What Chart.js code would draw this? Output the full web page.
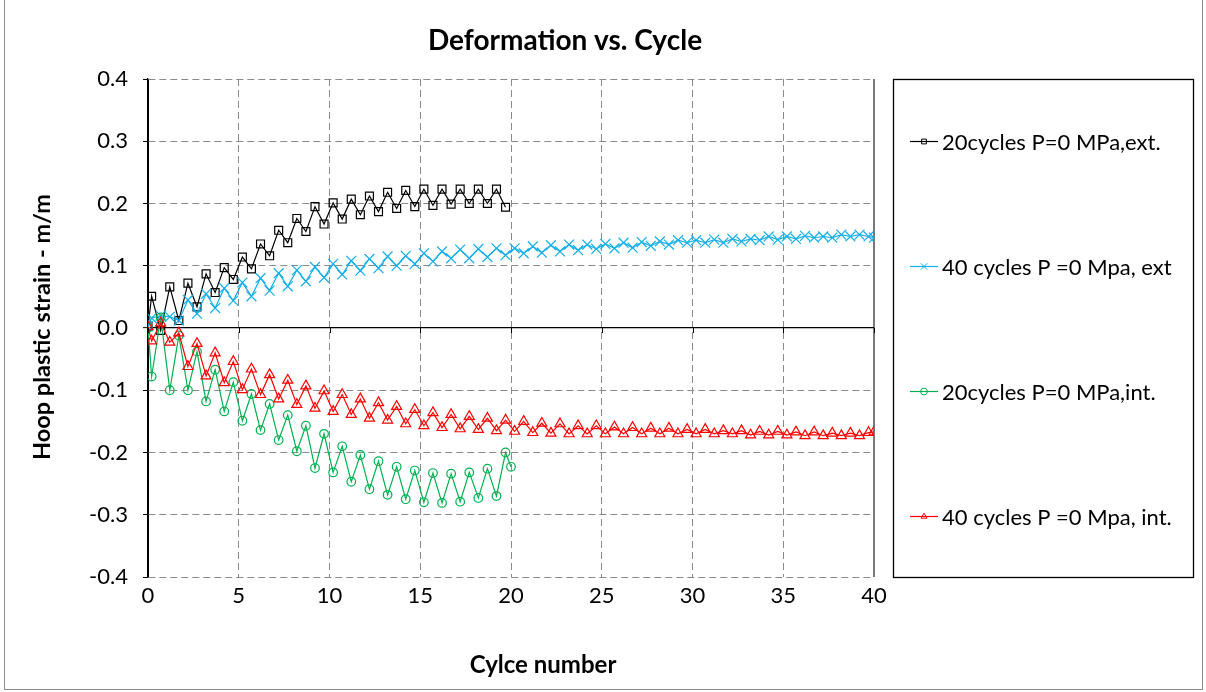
<!DOCTYPE html>
<html>
<head>
<meta charset="utf-8">
<title>Deformation vs. Cycle</title>
<script src="https://cdn.jsdelivr.net/npm/chart.js@4/dist/chart.umd.min.js"></script>
<style>
  html, body { margin: 0; padding: 0; background: #ffffff; }
  #wrap { width: 1206px; height: 692px; position: relative; }
  canvas { display: block; }
</style>
</head>
<body>
<div id="wrap"><canvas id="chart" width="1206" height="692"></canvas></div>
<script>
// ---- Data: hoop plastic strain (m/m) against cycle number ----
const cycles20 = [0, 0.2, 0.7, 1.2, 1.7, 2.2, 2.7, 3.2, 3.7, 4.2, 4.7, 5.2, 5.7, 6.2, 6.7, 7.2, 7.7,
  8.2, 8.7, 9.2, 9.7, 10.2, 10.7, 11.2, 11.7, 12.2, 12.7, 13.2, 13.7, 14.2, 14.7, 15.2, 15.7,
  16.2, 16.7, 17.2, 17.7, 18.2, 18.7, 19.2, 19.7];

const cycles20int = [0, 0.2, 0.7, 1.2, 1.7, 2.2, 2.7, 3.2, 3.7, 4.2, 4.7, 5.2, 5.7, 6.2, 6.7, 7.2, 7.7,
  8.2, 8.7, 9.2, 9.7, 10.2, 10.7, 11.2, 11.7, 12.2, 12.7, 13.2, 13.7, 14.2, 14.7, 15.2, 15.7,
  16.2, 16.7, 17.2, 17.7, 18.2, 18.7, 19.2, 19.7, 20];

const cycles40 = [0, 0.2, 0.7, 1.2, 1.7, 2.2, 2.7, 3.2, 3.7, 4.2, 4.7, 5.2, 5.7, 6.2, 6.7, 7.2, 7.7,
  8.2, 8.7, 9.2, 9.7, 10.2, 10.7, 11.2, 11.7, 12.2, 12.7, 13.2, 13.7, 14.2, 14.7, 15.2, 15.7,
  16.2, 16.7, 17.2, 17.7, 18.2, 18.7, 19.2, 19.7, 20.2, 20.7, 21.2, 21.7, 22.2, 22.7, 23.2, 23.7,
  24.2, 24.7, 25.2, 25.7, 26.2, 26.7, 27.2, 27.7, 28.2, 28.7, 29.2, 29.7, 30.2, 30.7, 31.2, 31.7,
  32.2, 32.7, 33.2, 33.7, 34.2, 34.7, 35.2, 35.7, 36.2, 36.7, 37.2, 37.7, 38.2, 38.7, 39.2, 39.7, 40];

const strain20ext = [0.003, 0.051, -0.004, 0.066, 0.012, 0.072, 0.034, 0.087, 0.057, 0.097, 0.078,
  0.114, 0.095, 0.135, 0.116, 0.157, 0.137, 0.176, 0.155, 0.195, 0.167, 0.201, 0.175, 0.207, 0.182,
  0.212, 0.187, 0.218, 0.192, 0.221, 0.195, 0.223, 0.197, 0.223, 0.199, 0.223, 0.200, 0.223, 0.200,
  0.223, 0.194];

const strain40ext = [0.003, 0.016, 0.020, 0.018, 0.012, 0.045, 0.023, 0.055, 0.032, 0.064, 0.044,
  0.073, 0.051, 0.080, 0.060, 0.088, 0.067, 0.093, 0.075, 0.098, 0.081, 0.103, 0.086, 0.108, 0.092,
  0.111, 0.096, 0.115, 0.100, 0.116, 0.103, 0.120, 0.107, 0.123, 0.112, 0.126, 0.112, 0.127, 0.114,
  0.128, 0.117, 0.128, 0.120, 0.131, 0.121, 0.133, 0.123, 0.134, 0.125, 0.134, 0.127, 0.135, 0.128,
  0.137, 0.129, 0.138, 0.132, 0.139, 0.134, 0.141, 0.137, 0.141, 0.137, 0.142, 0.137, 0.143, 0.139,
  0.143, 0.141, 0.147, 0.142, 0.147, 0.143, 0.148, 0.145, 0.147, 0.145, 0.150, 0.147, 0.150, 0.147,
  0.145];

const strain20int = [0.000, -0.078, 0.017, -0.100, -0.012, -0.100, -0.038, -0.118, -0.067, -0.134,
  -0.087, -0.149, -0.106, -0.164, -0.122, -0.180, -0.140, -0.198, -0.157, -0.225, -0.170, -0.232,
  -0.190, -0.247, -0.204, -0.259, -0.214, -0.268, -0.223, -0.275, -0.229, -0.280, -0.233, -0.281,
  -0.234, -0.279, -0.232, -0.273, -0.226, -0.270, -0.200, -0.223];

const strain40int = [0.002, -0.021, 0.008, -0.023, -0.008, -0.062, -0.025, -0.077, -0.040, -0.088,
  -0.054, -0.099, -0.066, -0.107, -0.075, -0.114, -0.084, -0.123, -0.093, -0.129, -0.101, -0.134,
  -0.107, -0.139, -0.114, -0.145, -0.120, -0.148, -0.126, -0.154, -0.131, -0.157, -0.136, -0.160,
  -0.139, -0.162, -0.142, -0.163, -0.145, -0.165, -0.148, -0.166, -0.150, -0.168, -0.153, -0.169,
  -0.154, -0.170, -0.157, -0.170, -0.157, -0.170, -0.159, -0.170, -0.160, -0.170, -0.161, -0.170,
  -0.161, -0.170, -0.163, -0.170, -0.163, -0.170, -0.165, -0.170, -0.165, -0.172, -0.166, -0.172,
  -0.166, -0.172, -0.167, -0.173, -0.167, -0.173, -0.169, -0.173, -0.169, -0.173, -0.168, -0.167];

const seriesNames = [
  '20cycles P=0 MPa,ext.',
  '40 cycles P =0 Mpa, ext',
  '20cycles P=0 MPa,int.',
  '40 cycles P =0 Mpa, int.'
];

const chartTitle = 'Deformation vs. Cycle';
const xTitle = 'Cylce number';
const yTitle = 'Hoop plastic strain - m/m';

const FONT = 'Lato, "Open Sans", "Liberation Sans", sans-serif';
const GRID = '#8a8a8a';

function pairs(xs, ys) {
  return xs.map((x, i) => ({ x: x, y: ys[i] }));
}

function lineSet(label, xs, ys, color, style, radius, order) {
  return {
    label: label,
    data: pairs(xs, ys),
    borderColor: color,
    backgroundColor: 'rgba(0,0,0,0)',
    borderWidth: 1.2,
    pointStyle: style,
    pointRadius: radius,
    pointBorderColor: color,
    pointBackgroundColor: 'rgba(0,0,0,0)',
    pointBorderWidth: 1.2,
    tension: 0,
    fill: false,
    order: order
  };
}

const datasets = [
  lineSet(seriesNames[0], cycles20, strain20ext, '#000000', 'rect', 5.6, 4),
  lineSet(seriesNames[1], cycles40, strain40ext, '#12aeea', 'crossRot', 7, 3),
  lineSet(seriesNames[2], cycles20int, strain20int, '#00b050', 'circle', 4.3, 2),
  lineSet(seriesNames[3], cycles40, strain40int, '#ff0000', 'triangle', 5.8, 1)
];

// Frame, titles, boxed legend and axis tick marks on the zero line
const decorations = {
  id: 'decorations',
  beforeDraw(chart) {
    const ctx = chart.ctx;
    ctx.save();
    ctx.fillStyle = '#ffffff';
    ctx.fillRect(0, 0, chart.width, chart.height);
    ctx.strokeStyle = '#8c8c8c';
    ctx.lineWidth = 1;
    ctx.strokeRect(4.5, -2, 1198, 691.5);
    ctx.restore();
  },
  afterDatasetsDraw(chart) {
    const ctx = chart.ctx;
    const xs = chart.scales.x;
    const y0 = chart.scales.y.getPixelForValue(0);
    ctx.save();
    ctx.strokeStyle = '#000000';
    ctx.lineWidth = 1;
    xs.ticks.forEach(t => {
      const px = Math.round(xs.getPixelForValue(t.value)) + 0.5;
      ctx.beginPath();
      ctx.moveTo(px, y0);
      ctx.lineTo(px, y0 + 5);
      ctx.stroke();
    });
    ctx.restore();
  },
  afterDraw(chart) {
    const ctx = chart.ctx;
    ctx.save();
    ctx.fillStyle = '#000000';
    ctx.textAlign = 'center';
    ctx.textBaseline = 'middle';

    ctx.font = 'bold 28px ' + FONT;
    ctx.fillText(chartTitle, 565, 41);

    ctx.font = 'bold 24px ' + FONT;
    ctx.fillText(xTitle, 543, 665);

    ctx.save();
    ctx.translate(42, 327);
    ctx.rotate(-Math.PI / 2);
    ctx.font = 'bold 23.5px ' + FONT;
    ctx.fillText(yTitle, 0, 0);
    ctx.restore();

    // legend box
    ctx.strokeStyle = '#000000';
    ctx.lineWidth = 1.3;
    ctx.strokeRect(893.5, 79.5, 300, 498);

    const rows = [141.5, 266.5, 391.5, 516.5];
    ctx.font = '22px ' + FONT;
    ctx.textAlign = 'left';
    chart.data.datasets.forEach((ds, i) => {
      const y = rows[i];
      ctx.strokeStyle = ds.borderColor;
      ctx.lineWidth = 1.2;
      ctx.beginPath();
      ctx.moveTo(910, y);
      ctx.lineTo(938, y);
      ctx.stroke();
      const opts = {
        pointStyle: ds.pointStyle,
        radius: ds.pointStyle === 'crossRot' ? 4.5 : 3.4,
        rotation: 0,
        borderWidth: 1
      };
      ctx.strokeStyle = ds.borderColor;
      ctx.lineWidth = 1;
      if (Chart.helpers && Chart.helpers.drawPoint) {
        ctx.fillStyle = 'rgba(0,0,0,0)';
        Chart.helpers.drawPoint(ctx, opts, 924, y);
      }
      ctx.fillStyle = '#000000';
      ctx.fillText(ds.label, 942, y + 1);
    });
    ctx.restore();
  }
};

const isZero = v => Math.abs(v) < 1e-9;

new Chart(document.getElementById('chart'), {
  type: 'line',
  data: { datasets: datasets },
  plugins: [decorations],
  options: {
    responsive: false,
    animation: false,
    devicePixelRatio: 1,
    events: [],
    layout: { padding: { left: 0, right: 332, top: 79, bottom: 0 } },
    plugins: {
      legend: { display: false },
      title: { display: false },
      tooltip: { enabled: false }
    },
    scales: {
      x: {
        type: 'linear',
        min: 0,
        max: 40,
        afterFit(scale) { scale.height = 115; },
        ticks: {
          stepSize: 5,
          padding: 6,
          color: '#000000',
          font: { family: FONT, size: 22 },
          maxRotation: 0
        },
        grid: {
          drawTicks: false,
          color: ctx => (ctx.tick && ctx.tick.value === 0) ? '#000000' : (ctx.tick && ctx.tick.value === 40 ? '#7a7a7a' : GRID),
          lineWidth: ctx => (ctx.tick && ctx.tick.value === 40) ? 2 : 1
        },
        border: {
          display: false,
          dash: ctx => (ctx.tick && (ctx.tick.value === 0 || ctx.tick.value === 40)) ? [] : [7, 4]
        }
      },
      y: {
        type: 'linear',
        min: -0.4,
        max: 0.4,
        afterFit(scale) { scale.width = 148; },
        ticks: {
          stepSize: 0.1,
          padding: 15,
          color: '#000000',
          font: { family: FONT, size: 22 },
          callback: v => isZero(v) ? '0.0' : Number(v).toFixed(1)
        },
        grid: {
          drawTicks: true,
          tickLength: 5,
          tickColor: '#000000',
          tickWidth: 1,
          tickBorderDash: [],
          color: ctx => (ctx.tick && isZero(ctx.tick.value)) ? '#000000' : GRID,
          lineWidth: ctx => (ctx.tick && isZero(ctx.tick.value)) ? 1.3 : 1
        },
        border: {
          display: true,
          color: '#000000',
          width: 1.3,
          dash: ctx => (ctx.tick && isZero(ctx.tick.value)) ? [] : [7, 4]
        }
      }
    }
  }
});
</script>
</body>
</html>
